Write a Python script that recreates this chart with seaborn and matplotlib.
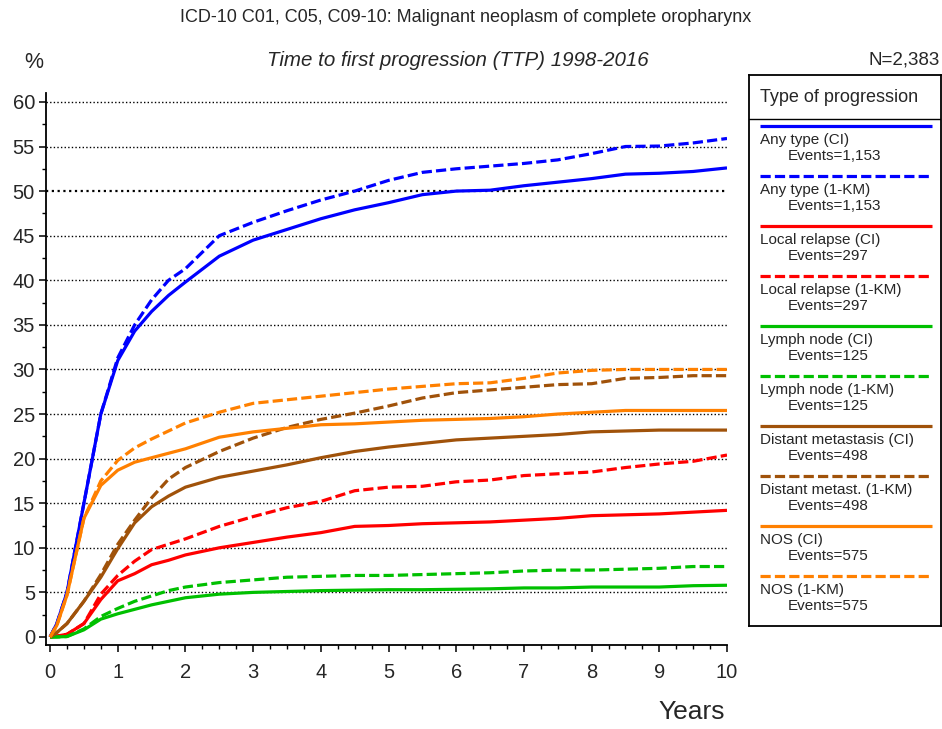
import matplotlib
matplotlib.use("Agg")
import matplotlib.pyplot as plt
from matplotlib.ticker import MultipleLocator
import pandas as pd
import seaborn as sns

# time grid (years) and cumulative progression (%)
years = [0, 0.1, 0.25, 0.5, 0.75, 1, 1.25, 1.5, 1.75, 2, 2.5, 3, 3.5, 4, 4.5,
         5, 5.5, 6, 6.5, 7, 7.5, 8, 8.5, 9, 9.5, 10]

any_ci = [0, 1.5, 5, 15, 25, 31, 34.3, 36.5, 38.3, 39.8, 42.7, 44.5, 45.7, 46.9, 47.9,
          48.7, 49.6, 50, 50.1, 50.6, 51, 51.4, 51.9, 52, 52.2, 52.6]
any_km = [0, 1.5, 5, 15, 25, 31.3, 35, 37.8, 40, 41.3, 45, 46.5, 47.8, 49, 50,
          51.2, 52.1, 52.5, 52.8, 53.1, 53.5, 54.2, 55, 55.05, 55.4, 55.9]
local_ci = [0, 0.1, 0.3, 1.5, 4.2, 6.3, 7.1, 8.1, 8.6, 9.2, 10, 10.6, 11.2, 11.7, 12.4,
            12.5, 12.7, 12.8, 12.9, 13.1, 13.3, 13.6, 13.7, 13.8, 14, 14.2]
local_km = [0, 0.1, 0.3, 1.5, 4.8, 6.9, 8.5, 9.8, 10.4, 11, 12.4, 13.5, 14.5, 15.2, 16.4,
            16.8, 16.9, 17.4, 17.6, 18.1, 18.3, 18.5, 19, 19.4, 19.7, 20.4]
lymph_ci = [0, 0, 0.05, 0.8, 2, 2.6, 3.1, 3.6, 4, 4.4, 4.8, 5, 5.1, 5.2, 5.25,
            5.3, 5.3, 5.35, 5.4, 5.5, 5.5, 5.6, 5.6, 5.6, 5.75, 5.8]
lymph_km = [0, 0, 0.05, 0.9, 2.3, 3.2, 4, 4.6, 5.2, 5.6, 6.1, 6.4, 6.7, 6.8, 6.9,
            6.9, 7, 7.1, 7.2, 7.4, 7.5, 7.5, 7.6, 7.7, 7.9, 7.9]
dist_ci = [0, 0.5, 1.5, 4, 6.7, 9.9, 12.8, 14.6, 15.8, 16.8, 17.9, 18.6, 19.3, 20.1, 20.8,
           21.3, 21.7, 22.1, 22.3, 22.5, 22.7, 23, 23.1, 23.2, 23.2, 23.2]
dist_km = [0, 0.5, 1.5, 4, 7, 10.4, 13.1, 15.6, 17.7, 19, 20.8, 22.3, 23.5, 24.4, 25.1,
           25.9, 26.8, 27.4, 27.7, 28, 28.3, 28.4, 29, 29.1, 29.3, 29.3]
nos_ci = [0, 1.3, 4.7, 13.3, 17, 18.7, 19.6, 20.1, 20.6, 21.1, 22.4, 23, 23.4, 23.8, 23.9,
          24.1, 24.3, 24.4, 24.5, 24.7, 25, 25.2, 25.4, 25.4, 25.4, 25.4]
nos_km = [0, 1.3, 4.7, 13.3, 17.5, 19.8, 21.2, 22.2, 23.1, 24, 25.2, 26.2, 26.6, 27, 27.4,
          27.8, 28.1, 28.4, 28.5, 29, 29.6, 29.9, 30, 30, 30, 30]

labels = ["Any type (CI)", "Any type (1-KM)", "Local relapse (CI)", "Local relapse (1-KM)",
          "Lymph node (CI)", "Lymph node (1-KM)", "Distant metastasis (CI)",
          "Distant metast. (1-KM)", "NOS (CI)", "NOS (1-KM)"]
events = ["1,153", "1,153", "297", "297", "125", "125", "498", "498", "575", "575"]
series = [any_ci, any_km, local_ci, local_km, lymph_ci, lymph_km,
          dist_ci, dist_km, nos_ci, nos_km]
colors = ["#0000FF", "#0000FF", "#FF0000", "#FF0000", "#00C000", "#00C000",
          "#A0520A", "#A0520A", "#FF8000", "#FF8000"]
dashed = [False, True] * 5

y_ticks = list(range(0, 61, 5))
x_ticks = list(range(0, 11))

sns.set_style("white")
plt.rcParams["font.family"] = ["Liberation Sans", "DejaVu Sans"]

fig = plt.figure(figsize=(9.42, 7.29), dpi=100)
ax = fig.add_axes([46 / 942, 1 - 645 / 729, 681 / 942, 552 / 729])

rows = []
for lab, vals in zip(labels, series):
    for t, v in zip(years, vals):
        rows.append({"years": t, "pct": v, "type": lab})
df = pd.DataFrame(rows)

for lab, col, dsh in zip(labels, colors, dashed):
    sub = df[df["type"] == lab]
    sns.lineplot(data=sub, x="years", y="pct", color=col, linewidth=2.3,
                 estimator=None, sort=False, ax=ax, legend=False)
    line = ax.lines[-1]
    line.set_solid_capstyle("butt")
    if dsh:
        line.set_dashes([3.2, 1.3])

for yv in y_ticks[1:]:
    ax.axhline(yv, color="black", linewidth=1.6 if yv == 50 else 1.0,
               linestyle=(0, (1, 1.6)), zorder=0)

ax.set_xlim(-0.06, 10.0)
ax.set_ylim(-0.9, 61.0)
ax.set_xticks(x_ticks)
ax.set_yticks(y_ticks)
ax.xaxis.set_minor_locator(MultipleLocator(0.25))
ax.yaxis.set_minor_locator(MultipleLocator(2.5))
ax.tick_params(axis="both", which="major", direction="out", length=5, width=1.1,
               labelsize=14.5, color="black", bottom=True, left=True)
ax.tick_params(axis="both", which="minor", direction="out", length=3, width=1.0,
               color="black", bottom=True, left=True)
ax.tick_params(axis="x", which="major", pad=8)
ax.tick_params(axis="y", which="major", pad=3)
ax.set_xlabel("")
ax.set_ylabel("")
for side in ["top", "right"]:
    ax.spines[side].set_visible(False)
for side in ["left", "bottom"]:
    ax.spines[side].set_color("black")
    ax.spines[side].set_linewidth(1.3)

# titles
fig.text(466 / 942, 1 - 18 / 729, "ICD-10 C01, C05, C09-10: Malignant neoplasm of complete oropharynx",
         ha="center", va="center", fontsize=13)
fig.text(458 / 942, 1 - 60 / 729, "Time to first progression (TTP) 1998-2016",
         ha="center", va="center", fontsize=14.8, style="italic")
fig.text(34 / 942, 1 - 62 / 729, "%", ha="center", va="center", fontsize=15.5)
fig.text(940 / 942, 1 - 60 / 729, "N=2,383", ha="right", va="center", fontsize=13.5)
fig.text(725 / 942, 1 - 712 / 729, "Years", ha="right", va="center", fontsize=19)

# legend box (pixel coordinates)
lg = fig.add_axes([749 / 942, 1 - 626 / 729, 192 / 942, 551 / 729])
lg.set_xlim(749, 941)
lg.set_ylim(626, 75)
lg.set_xticks([])
lg.set_yticks([])
for sp in lg.spines.values():
    sp.set_visible(True)
    sp.set_color("black")
    sp.set_linewidth(1.3)
lg.text(760, 97, "Type of progression", ha="left", va="center", fontsize=13)
lg.plot([749, 941], [119, 119], color="black", linewidth=1.0)
for i, (lab, ev, col, dsh) in enumerate(zip(labels, events, colors, dashed)):
    y0 = 126 + 50 * i
    ln, = lg.plot([760, 932], [y0, y0], color=col, linewidth=2.3, solid_capstyle="butt")
    if dsh:
        ln.set_dashes([3.2, 1.3])
    lg.text(760, y0 + 18, lab, ha="left", va="baseline", fontsize=11)
    lg.text(788, y0 + 34, "Events=" + ev, ha="left", va="baseline", fontsize=11)

fig.savefig("out.png", dpi=100)
